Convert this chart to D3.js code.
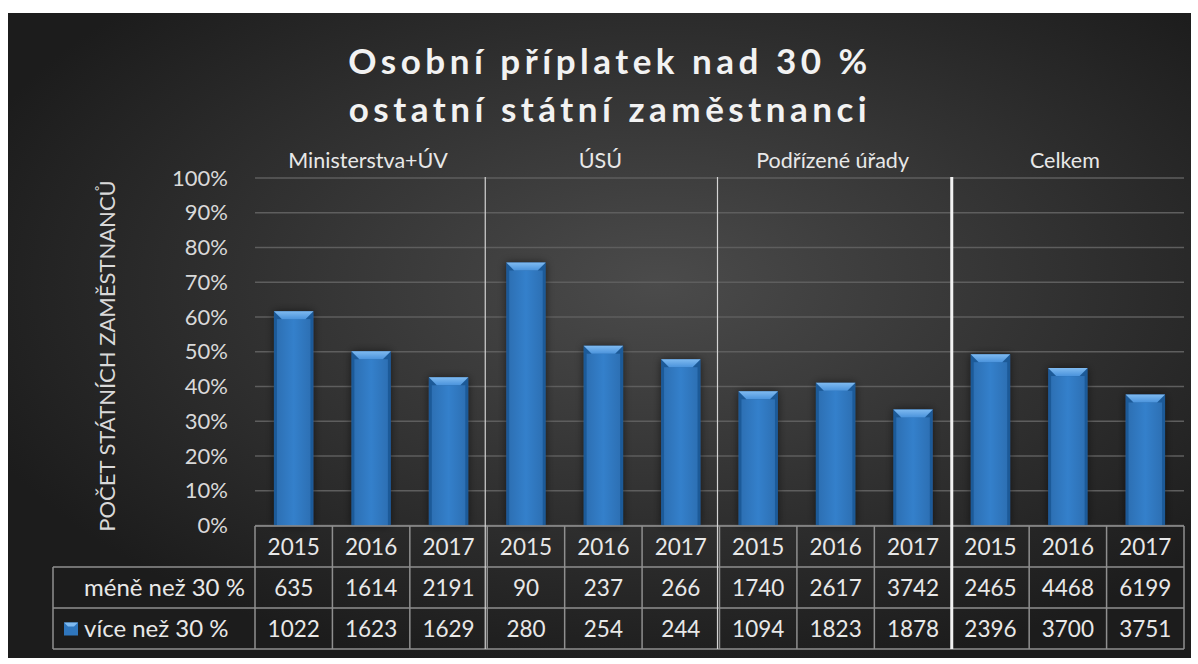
<!DOCTYPE html>
<html>
<head>
<meta charset="utf-8">
<script src="https://cdn.jsdelivr.net/npm/d3@7"></script>
<style>
    body { margin:0; background:#fff; }
    text { font-family: Lato, "Open Sans", sans-serif; }
</style>
</head>
<body>
<svg id="chart" width="1198" height="664"></svg>
<script>
// data
const groups = ['Ministerstva+ÚV', 'ÚSÚ', 'Podřízené úřady', 'Celkem'];
const years = ['2015', '2016', '2017'];
const seriesNames = ['méně než 30 %', 'více než 30 %'];
const under30 = [635, 1614, 2191, 90, 237, 266, 1740, 2617, 3742, 2465, 4468, 6199];
const over30 = [1022, 1623, 1629, 280, 254, 244, 1094, 1823, 1878, 2396, 3700, 3751];
const titleLines = ['Osobní příplatek nad 30 %', 'ostatní státní zaměstnanci'];
const yTitle = 'POČET STÁTNÍCH ZAMĚSTNANCŮ';

const svg = d3.select('#chart');
const plot = {left:255, right:1184, top:178, bottom:525.5};
const rowH = 41;
const tableTop = 526;
const headLeft = 53;

const defs = svg.append('defs');

const bg = defs.append('radialGradient')
    .attr('id', 'bg')
    .attr('cx', '55%').attr('cy', '42%').attr('r', '62%');
bg.append('stop').attr('offset', '0%').attr('stop-color', '#4b4b4b');
bg.append('stop').attr('offset', '100%').attr('stop-color', '#1c1c1c');

const face = defs.append('linearGradient').attr('id', 'face');
face.append('stop').attr('offset', '0%').attr('stop-color', '#2d70b4');
face.append('stop').attr('offset', '50%').attr('stop-color', '#3480cb');
face.append('stop').attr('offset', '100%').attr('stop-color', '#2d70b4');

const bevel = defs.append('linearGradient').attr('id', 'bevel')
    .attr('x1', 0).attr('x2', 0).attr('y1', 0).attr('y2', 1);
bevel.append('stop').attr('offset', '0%').attr('stop-color', '#7fbaf0');
bevel.append('stop').attr('offset', '100%').attr('stop-color', '#4a93dc');

defs.append('filter').attr('id', 'shadow')
    .attr('x', '-40%').attr('y', '-10%').attr('width', '180%').attr('height', '120%')
    .append('feDropShadow')
    .attr('dx', 0).attr('dy', 0).attr('stdDeviation', 4)
    .attr('flood-color', '#000').attr('flood-opacity', 0.55);

svg.append('rect')
    .attr('x', 8).attr('y', 13)
    .attr('width', 1183).attr('height', 645)
    .attr('fill', 'url(#bg)');

// title
svg.append('text')
    .attr('text-anchor', 'middle')
    .attr('font-size', 35).attr('font-weight', 'bold')
    .attr('letter-spacing', 4.5)
    .attr('fill', '#f2f2f2')
    .selectAll('tspan')
    .data(titleLines)
    .enter()
    .append('tspan')
    .attr('x', 610)
    .attr('y', (d,i)=>73.5 + i*48.5)
    .text(d=>d);

// scales
const idx = d3.range(under30.length);
const col = d3.scaleBand().domain(idx).range([plot.left, plot.right]);
const x = d3.scaleBand().domain(idx).range([plot.left, plot.right])
    .paddingInner(0.49).paddingOuter(0.245);
const y = d3.scaleLinear().domain([0, 1]).range([plot.bottom, plot.top]);

// gridlines
svg.append('g')
    .selectAll('line')
    .data(y.ticks(10))
    .enter()
    .append('line')
    .attr('x1', plot.left).attr('x2', plot.right)
    .attr('y1', d=>y(d)).attr('y2', d=>y(d))
    .attr('stroke', '#5e5e5e').attr('stroke-width', 1.5);

// y axis labels
const yAxis = svg.append('g')
    .attr('transform', `translate(${plot.left},0)`)
    .call(d3.axisLeft(y).ticks(10).tickFormat(d3.format('.0%')).tickSize(0).tickPadding(27));
yAxis.select('.domain').remove();
yAxis.selectAll('text')
    .attr('font-size', 22)
    .attr('fill', '#d9d9d9')
    .style('font-family', 'Lato, sans-serif');

svg.append('text')
    .attr('transform', 'translate(115,356) rotate(-90)')
    .attr('text-anchor', 'middle')
    .attr('font-size', 22)
    .attr('fill', '#d9d9d9')
    .text(yTitle);

// 100% stacked columns, the "méně" series has no fill
const rows = idx.map(i=>({over: over30[i], under: under30[i]}));
const stacked = d3.stack().keys(['over', 'under']).offset(d3.stackOffsetExpand)(rows);
const bw = x.bandwidth();
const bv = 8;

const bars = svg.append('g')
    .selectAll('.bar')
    .data(stacked[0].map((d,i)=>({i, y0:d[0], y1:d[1]})))
    .enter()
    .append('g')
    .attr('class', 'bar')
    .attr('transform', d=>`translate(${x(d.i)},0)`);

bars.append('rect')
    .attr('y', d=>y(d.y1))
    .attr('width', bw)
    .attr('height', d=>y(d.y0) - y(d.y1))
    .attr('fill', '#1f5a98')
    .attr('filter', 'url(#shadow)');
bars.append('rect')
    .attr('x', 3)
    .attr('y', d=>y(d.y1) + bv)
    .attr('width', bw - 6)
    .attr('height', d=>y(d.y0) - y(d.y1) - bv)
    .attr('fill', 'url(#face)');
bars.append('polygon')
    .attr('points', d=>{
        const t = y(d.y1);
        return [[0,t],[bw,t],[bw-bv,t+bv],[bv,t+bv]].join(' ');
    })
    .attr('fill', 'url(#bevel)');

// category labels over groups
svg.append('g')
    .selectAll('text')
    .data(groups)
    .enter()
    .append('text')
    .attr('x', (d,i)=>col(i*3) + col.bandwidth()*1.5 - 3)
    .attr('y', 168)
    .attr('text-anchor', 'middle')
    .attr('font-size', 21.5)
    .attr('fill', '#e8e8e8')
    .text(d=>d);

// data table
const table = svg.append('g');
const lineColor = '#8f8f8f';
const tableBottom = tableTop + rowH*3;

table.selectAll('.hline')
    .data([0,1,2,3])
    .enter()
    .append('line')
    .attr('x1', (d)=>d === 0 ? plot.left : headLeft)
    .attr('x2', plot.right)
    .attr('y1', d=>tableTop + d*rowH)
    .attr('y2', d=>tableTop + d*rowH)
    .attr('stroke', lineColor).attr('stroke-width', 1.5);

table.selectAll('.vline')
    .data(d3.range(under30.length + 1))
    .enter()
    .append('line')
    .attr('x1', d=>plot.left + d*col.step())
    .attr('x2', d=>plot.left + d*col.step())
    .attr('y1', tableTop).attr('y2', tableBottom)
    .attr('stroke', lineColor).attr('stroke-width', 1.5);

table.append('line')
    .attr('x1', headLeft).attr('x2', headLeft)
    .attr('y1', tableTop + rowH).attr('y2', tableBottom)
    .attr('stroke', lineColor).attr('stroke-width', 1.5);

const cellRows = [idx.map(i=>years[i%3]), under30, over30];
cellRows.forEach((vals, r)=>{
    table.append('g')
        .selectAll('text')
        .data(vals)
        .enter()
        .append('text')
        .attr('x', (d,i)=>col(i) + col.bandwidth()/2)
        .attr('y', tableTop + r*rowH + rowH/2)
        .attr('dy', '0.36em')
        .attr('text-anchor', 'middle')
        .attr('font-size', 22.5)
        .attr('fill', '#e8e8e8')
        .text(d=>d);
});

table.append('g')
    .selectAll('text')
    .data(seriesNames)
    .enter()
    .append('text')
    .attr('x', 84)
    .attr('y', (d,i)=>tableTop + (i+1)*rowH + rowH/2)
    .attr('dy', '0.36em')
    .attr('font-size', 24)
    .attr('fill', '#e8e8e8')
    .text(d=>d);

// legend key for the visible series
const key = table.append('g').attr('transform', `translate(64,${tableTop + 2*rowH + 14.5})`);
key.append('rect').attr('width', 14).attr('height', 13).attr('fill', '#2f76bd');
key.append('polygon').attr('points', '0,0 14,0 10,4 4,4').attr('fill', '#7fbaf0');

// group separators
svg.append('g')
    .selectAll('line')
    .data([3, 6, 9])
    .enter()
    .append('line')
    .attr('x1', d=>plot.left + d*col.step() - (d === 9 ? 0 : 2))
    .attr('x2', d=>plot.left + d*col.step() - (d === 9 ? 0 : 2))
    .attr('y1', plot.top - 1)
    .attr('y2', tableBottom)
    .attr('stroke', (d)=>d === 9 ? '#f2f2f2' : '#d4d4d4')
    .attr('stroke-width', d=>d === 9 ? 3 : 1.2);
</script>
</body>
</html>
